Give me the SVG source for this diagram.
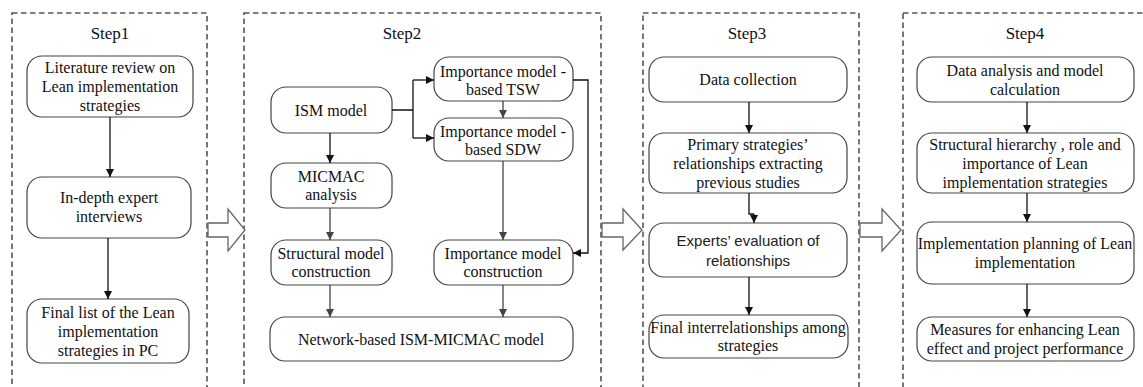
<svg xmlns="http://www.w3.org/2000/svg" width="1143" height="387" viewBox="0 0 1143 387">
<style>
.frame{fill:none;stroke:#555;stroke-width:1.6;stroke-dasharray:5.5 3.5}
.box{fill:#fff;stroke:#444;stroke-width:1.2}
.t{font-family:"Liberation Serif","Times New Roman",serif;font-size:16px;fill:#111;text-anchor:middle}
.s{font-family:"Liberation Sans",Arial,sans-serif;font-size:15px;fill:#222;text-anchor:middle}
.title{font-family:"Liberation Serif","Times New Roman",serif;font-size:17px;fill:#111;text-anchor:middle}
.c{fill:none;stroke:#111;stroke-width:1.3}
.g{fill:none;stroke:#444;stroke-width:1.3}
.hollow{fill:#fff;stroke:#666;stroke-width:1.3}
</style>
<defs>
<marker id="ah" viewBox="0 0 10 10" refX="10" refY="5" markerWidth="8" markerHeight="8" markerUnits="userSpaceOnUse" orient="auto"><path d="M0,0 L10,5 L0,10 z" fill="#111"/></marker>
<marker id="ahg" viewBox="0 0 10 10" refX="10" refY="5" markerWidth="8" markerHeight="8" markerUnits="userSpaceOnUse" orient="auto"><path d="M0,0 L10,5 L0,10 z" fill="#444"/></marker>
</defs>
<g id="frames">
<rect class="frame" x="12" y="13" width="195" height="400"/>
<rect class="frame" x="244" y="13" width="357" height="400"/>
<rect class="frame" x="643" y="13" width="216" height="400"/>
<rect class="frame" x="903" y="13" width="260" height="400"/>
<text class="title" x="110" y="39">Step1</text>
<text class="title" x="402" y="39">Step2</text>
<text class="title" x="747" y="39">Step3</text>
<text class="title" x="1025" y="39">Step4</text>
</g>
<g id="s1n1"><rect class="box" x="27" y="56" width="166" height="61" rx="15"/>
<text class="t" x="110" y="73">Literature review on</text><text class="t" x="110" y="92">Lean implementation</text><text class="t" x="110" y="111">strategies</text></g>
<g id="s1n2"><rect class="box" x="27" y="177" width="164" height="61" rx="15"/>
<text class="t" x="109" y="203">In-depth expert</text><text class="t" x="109" y="222">interviews</text></g>
<g id="s1n3"><rect class="box" x="27" y="299" width="162" height="64" rx="15"/>
<text class="t" x="108" y="318">Final list of the Lean</text><text class="t" x="108" y="337">implementation</text><text class="t" x="108" y="356">strategies in PC</text></g>

<g id="ism"><rect class="box" x="271" y="87" width="121" height="46" rx="15"/><text class="t" x="331" y="116">ISM model</text></g>
<g id="tsw"><rect class="box" x="434" y="57" width="139" height="44" rx="15"/><text class="t" x="503" y="77">Importance model -</text><text class="t" x="503" y="95">based TSW</text></g>
<g id="sdw"><rect class="box" x="434" y="118" width="139" height="43" rx="15"/><text class="t" x="503" y="137">Importance model -</text><text class="t" x="503" y="155">based SDW</text></g>
<g id="micmac"><rect class="box" x="271" y="163" width="121" height="45" rx="15"/><text class="t" x="331" y="182">MICMAC</text><text class="t" x="331" y="200">analysis</text></g>
<g id="struct"><rect class="box" x="271" y="240" width="121" height="45" rx="15"/><text class="t" x="331" y="259">Structural model</text><text class="t" x="331" y="277">construction</text></g>
<g id="impc"><rect class="box" x="434" y="240" width="139" height="45" rx="15"/><text class="t" x="503" y="259">Importance model</text><text class="t" x="503" y="277">construction</text></g>
<g id="network"><rect class="box" x="270" y="317" width="303" height="44" rx="15"/><text class="t" x="421" y="345">Network-based ISM-MICMAC model</text></g>

<g id="s3n1"><rect class="box" x="649" y="57" width="198" height="45" rx="15"/><text class="t" x="748" y="85">Data collection</text></g>
<g id="s3n2"><rect class="box" x="649" y="133" width="198" height="60" rx="15"/>
<text class="t" x="748" y="150">Primary strategies’</text><text class="t" x="748" y="169">relationships extracting</text><text class="t" x="748" y="188">previous studies</text></g>
<g id="s3n3"><rect class="box" x="649" y="223" width="198" height="54" rx="15"/>
<text class="s" x="748" y="246">Experts’ evaluation  of</text><text class="s" x="748" y="266">relationships</text></g>
<g id="s3n4"><rect class="box" x="649" y="315" width="199" height="43" rx="15"/>
<text class="t" x="748" y="333">Final interrelationships among</text><text class="t" x="748" y="351">strategies</text></g>

<g id="s4n1"><rect class="box" x="917" y="57" width="217" height="45" rx="15"/>
<text class="t" x="1025" y="76">Data analysis and model</text><text class="t" x="1025" y="95">calculation</text></g>
<g id="s4n2"><rect class="box" x="917" y="133" width="217" height="60" rx="15"/>
<text class="t" x="1025" y="150">Structural hierarchy , role and</text><text class="t" x="1025" y="169">importance of Lean</text><text class="t" x="1025" y="188">implementation strategies</text></g>
<g id="s4n3"><rect class="box" x="917" y="222" width="217" height="62" rx="15"/>
<text class="t" x="1025" y="249">Implementation planning of Lean</text><text class="t" x="1025" y="268">implementation</text></g>
<g id="s4n4"><rect class="box" x="917" y="317" width="217" height="44" rx="15"/>
<text class="t" x="1025" y="335">Measures for enhancing Lean</text><text class="t" x="1025" y="354">effect and project performance</text></g>

<g id="connectors">
<path class="c" d="M110,117 V177" marker-end="url(#ah)"/>
<path class="c" d="M108,238 V299" marker-end="url(#ah)"/>
<path class="c" d="M392,110 H413 M413,80 V138"/>
<path class="c" d="M413,80 H434" marker-end="url(#ah)"/>
<path class="c" d="M413,138 H434" marker-end="url(#ah)"/>
<path class="g" d="M503,101 V118" marker-end="url(#ahg)"/>
<path class="c" d="M573,80 H588 V253 H573" marker-end="url(#ah)"/>
<path class="c" d="M330,133 V163" marker-end="url(#ah)"/>
<path class="g" d="M330,208 V240" marker-end="url(#ahg)"/>
<path class="g" d="M503,161 V240" marker-end="url(#ahg)"/>
<path class="g" d="M330,285 V317" marker-end="url(#ahg)"/>
<path class="g" d="M503,285 V317" marker-end="url(#ahg)"/>
<path class="c" d="M749,102 V133" marker-end="url(#ah)"/>
<path class="c" d="M749,193 V214 H754"/>
<path class="c" d="M754,214 V223" marker-end="url(#ah)"/>
<path class="c" d="M749,277 V315" marker-end="url(#ah)"/>
<path class="c" d="M1027,102 V133" marker-end="url(#ah)"/>
<path class="c" d="M1027,193 V222" marker-end="url(#ah)"/>
<path class="c" d="M1027,284 V317" marker-end="url(#ah)"/>
<polygon class="hollow" points="208,223 228,223 228,209 245,230 228,251 228,237 208,237"/>
<polygon class="hollow" points="602,223 623,223 623,209 642,230 623,250 623,237 602,237"/>
<polygon class="hollow" points="860,223 882,223 882,209 901,230 882,251 882,237 860,237"/>
</g>
</svg>
